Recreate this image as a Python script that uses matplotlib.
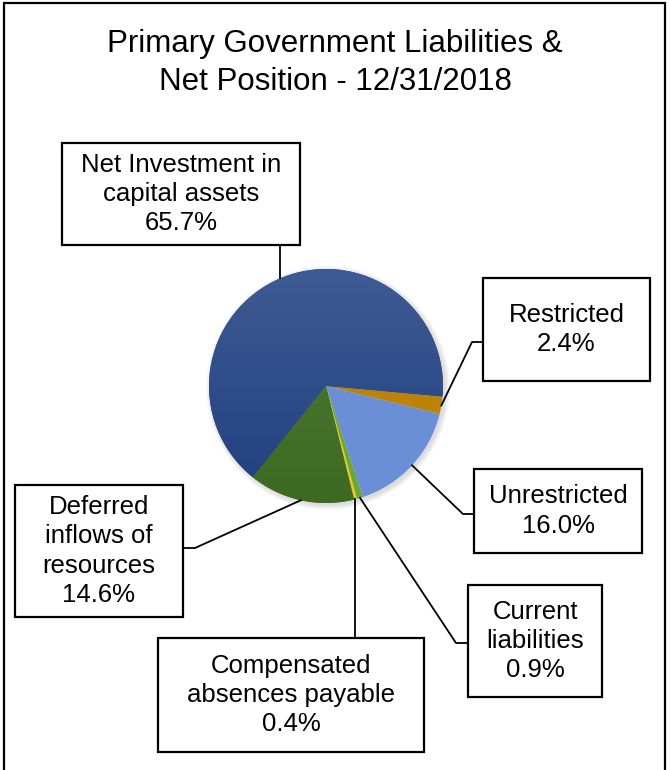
import numpy as np
import matplotlib
matplotlib.use('Agg')
import matplotlib.pyplot as plt
from matplotlib.patches import Rectangle, Circle
from matplotlib.colors import LinearSegmentedColormap

plt.rcParams['font.family'] = ['Liberation Sans', 'DejaVu Sans']

# Dados do gráfico
labels = ['Net Investment in\ncapital assets', 'Restricted', 'Unrestricted',
          'Current\nliabilities', 'Compensated\nabsences payable',
          'Deferred\ninflows of\nresources']
shares = [65.7, 2.4, 16.0, 0.9, 0.4, 14.6]
colors = ['#2a4784', '#bb8408', '#6a8fd6', '#6aa63a', '#e3c620', '#4a772d']
gradients = {0: ('#3f5b95', '#1f3f7d'), 5: ('#527c36', '#3d6922')}

W, H = 670, 770
fig = plt.figure(figsize=(W / 100, H / 100), dpi=100)
ax = fig.add_axes([0, 0, 1, 1])


def Y(y):
    # coordenadas de imagem (y para baixo) -> eixo (y para cima)
    return H - y


cx, cy, r = 326, Y(386), 117

# sombra suave
for i in range(8):
    ax.add_patch(Circle((cx + 2, cy - 2), r + 0.7 * i, color='#808080',
                        alpha=0.035, lw=0, zorder=1))

wedges, _ = ax.pie(shares, colors=colors, startangle=231.3, counterclock=False,
                   center=(cx, cy), radius=r,
                   wedgeprops=dict(linewidth=0))
for w in wedges:
    w.set_zorder(2)

# gradiente vertical nas fatias grandes
grad = np.linspace(0, 1, 256).reshape(-1, 1)
for idx, (top, bottom) in gradients.items():
    cmap = LinearSegmentedColormap.from_list('g', [bottom, top])
    im = ax.imshow(grad, extent=[cx - r, cx + r, cy - r, cy + r], origin='lower',
                   cmap=cmap, aspect='auto', zorder=2.5)
    im.set_clip_path(wedges[idx])

# caixas dos rótulos (x0, topo, x1, base) em pixels da imagem
boxes = [(62, 143, 300, 245), (483, 278, 650, 381), (474, 469, 642, 553),
         (468, 585, 602, 697), (158, 638, 424, 752), (15, 485, 183, 617)]
# cotovelo das linhas de chamada (None = linha vertical direta)
elbows = [None, (472, 342), (463, 514), (456, 643), None, (195, 548)]

for w, lab, val, box, elb in zip(wedges, labels, shares, boxes, elbows):
    x0, t, x1, b = box
    ax.add_patch(Rectangle((x0, Y(b)), x1 - x0, b - t, fill=True, fc='white',
                           ec='black', lw=1.6, zorder=4))
    ax.text((x0 + x1) / 2, Y((t + b) / 2), f'{lab}\n{val:.1f}%', ha='center',
            va='center', fontsize=18.5, linespacing=1.28, zorder=5)
    ang = np.deg2rad((w.theta1 + w.theta2) / 2)
    px, py = cx + r * np.cos(ang), cy + r * np.sin(ang)
    if elb is None:
        edge_y = Y(b) if py < Y(b) else Y(t)
        ax.plot([px, px], [py, edge_y], color='black', lw=1.3, zorder=3)
    else:
        ex, ey = elb[0], Y(elb[1])
        bx = x0 if ex < x0 else x1
        ax.plot([px, ex, bx], [py, ey, ey], color='black', lw=1.3, zorder=3)

ax.text(335, Y(63), 'Primary Government Liabilities &\nNet Position - 12/31/2018',
        ha='center', va='center', fontsize=22.5, linespacing=1.35)

# moldura externa
ax.add_patch(Rectangle((4, -20), 661, Y(3) + 20, fill=False, ec='black',
                       lw=1.6, zorder=6))

ax.set_xlim(0, W)
ax.set_ylim(0, H)
ax.set_aspect('auto')
ax.axis('off')

plt.savefig('out.png', dpi=100)
